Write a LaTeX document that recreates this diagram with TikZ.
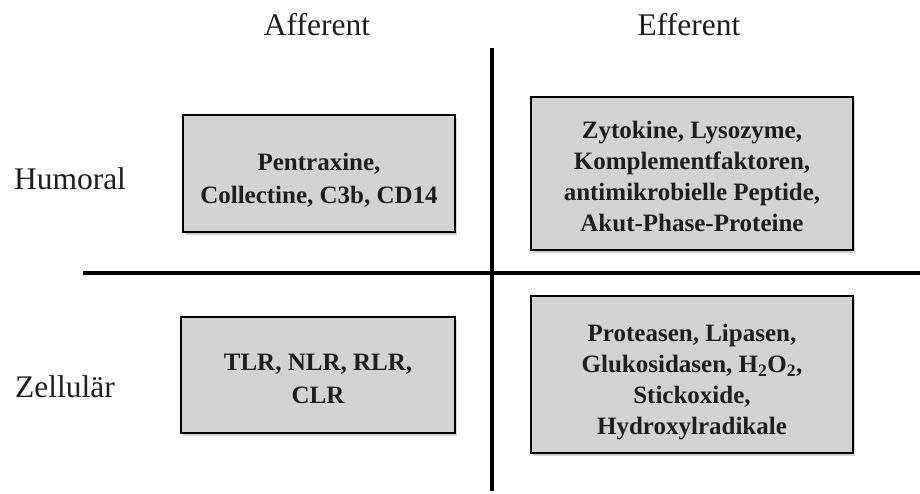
\documentclass[tikz,border=0pt]{standalone}
\usepackage{fontspec}
\setmainfont{Liberation Serif}
\usetikzlibrary{shadows}
\definecolor{boxfill}{HTML}{D3D3D3}
\definecolor{txt}{HTML}{1E1E1E}
\tikzset{
  cellbox/.style={draw=black, line width=1.5pt, fill=boxfill, inner sep=0pt,
    drop shadow={shadow xshift=1.5pt, shadow yshift=-2.5pt, opacity=0.35}},
  celltext/.style={text=txt, align=center, inner sep=0pt,
    font=\fontsize{25}{#1}\selectfont\bfseries},
  headlabel/.style={text=txt, anchor=base, inner sep=0pt,
    font=\fontsize{31.5}{36}\selectfont},
  divider/.style={draw=black, line width=4pt}
}
\begin{document}
\begin{tikzpicture}[x=1pt,y=-1pt]
\useasboundingbox (0,0) rectangle (920,493);
% dividers
\coordinate (vtop) at (492,48);
\coordinate (vbot) at (492,491);
\coordinate (hl) at (83,273);
\coordinate (hr) at (920,273);
\draw[divider] (vtop) -- (vbot);
\draw[divider] (hl) -- (hr);
% headings
\node[headlabel] (aff) at (317,35) {Afferent};
\node[headlabel] (eff) at (689,35) {Efferent};
\node[headlabel] (hum) at (70,189) {Humoral};
\node[headlabel] (zel) at (65,397) {Zellulär};
% boxes
\node[cellbox, minimum width=272pt, minimum height=117pt] (b1) at (319,173.5) {};
\node[cellbox, minimum width=322pt, minimum height=153pt] (b2) at (692,173.5) {};
\node[cellbox, minimum width=274pt, minimum height=116pt] (b3) at (318,375) {};
\node[cellbox, minimum width=322pt, minimum height=157pt] (b4) at (692,374.5) {};
% box texts
\node[celltext=33, yshift=-7pt] (t1) at (b1.center)
  {Pentraxine,\\Collectine, C3b, CD14};
\node[celltext=31, yshift=-2.5pt] (t2) at (b2.center)
  {Zytokine, Lysozyme,\\Komplementfaktoren,\\antimikrobielle Peptide,\\Akut-Phase-Proteine};
\node[celltext=33, yshift=-3.5pt] (t3) at (b3.center)
  {TLR, NLR, RLR,\\CLR};
\node[celltext=31, yshift=-8pt] (t4) at (b4.center)
  {Proteasen, Lipasen,\\Glukosidasen, H\textsubscript{2}O\textsubscript{2},\\Stickoxide,\\Hydroxylradikale};
\end{tikzpicture}
\end{document}
